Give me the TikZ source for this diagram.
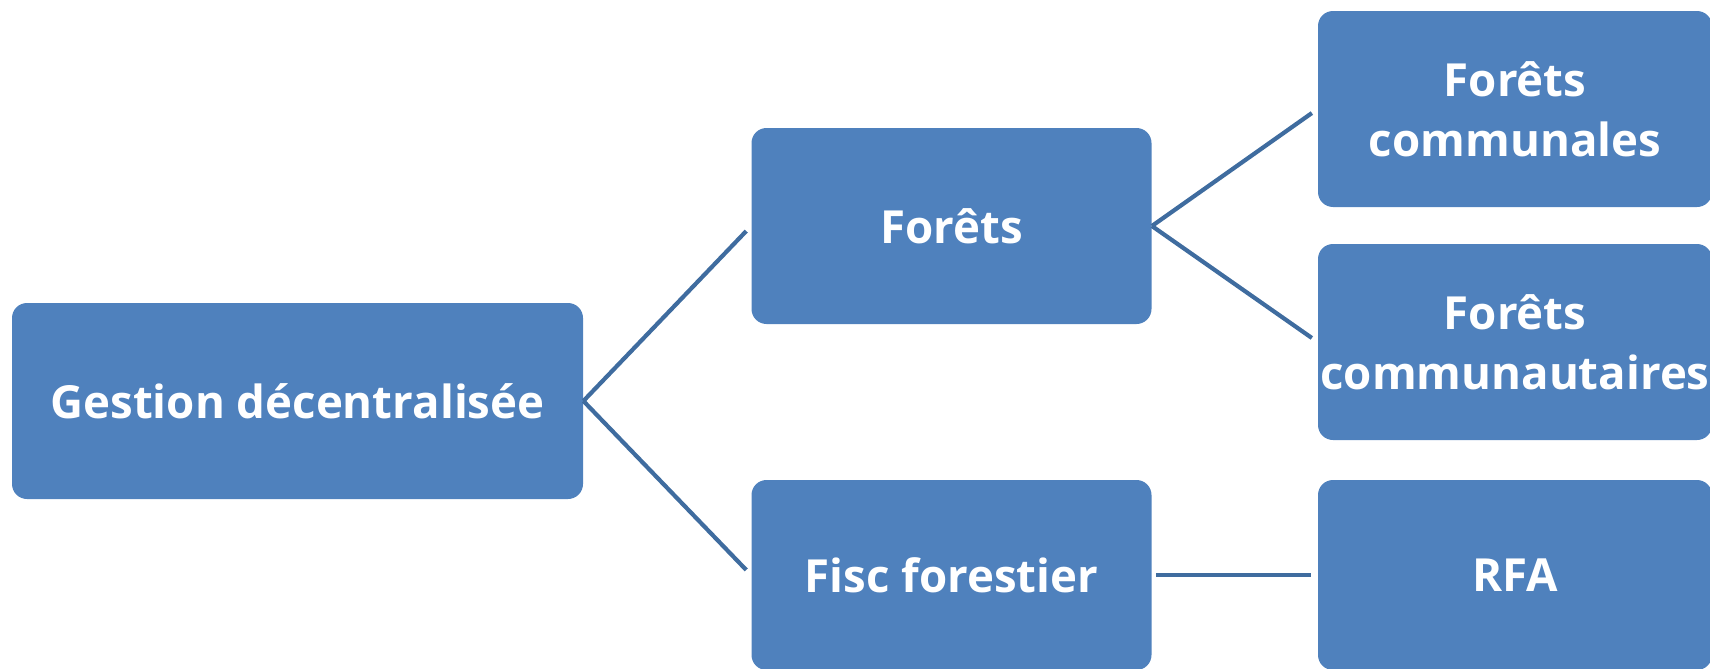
\documentclass[tikz,border=0pt]{standalone}
\usepackage{fontspec}
\setmainfont{Open Sans}
\usepackage{xcolor}
\usetikzlibrary{positioning}
\usetikzlibrary{calc}
\definecolor{boxblue}{HTML}{4F81BD}
\definecolor{lineblue}{HTML}{3F6C9F}

\begin{document}
\begin{tikzpicture}[x=0.5pt,y=-0.5pt,
		box/.style={rectangle, rounded corners=7.5pt, fill=boxblue, text=white,
			font=\fontsize{22.8}{30}\selectfont\bfseries, align=center, inner sep=0pt},
		big/.style={box, minimum width=285.5pt, minimum height=98pt},
		mid/.style={box, minimum width=200pt, minimum height=98pt},
		low/.style={box, minimum width=200pt, minimum height=95pt},
		side/.style={box, minimum width=197pt, minimum height=98pt},
		sidelow/.style={box, minimum width=197pt, minimum height=95pt},
		link/.style={draw=lineblue, line width=2.1pt, shorten >=3.5pt}]
						\useasboundingbox (0,0) rectangle (1710,669);
						% draw boxes
						\node[big] (gestion) at (297.5,401) {Gestion décentralisée};
						\node[mid] (forets) at (951.5,226) {Forêts};
						\node[low] (fisc) at (951.5,575) {Fisc forestier};
						\node[side] (communales) at (1515,109) {Forêts\\communales};
						\node[side] (communautaires) at (1515,342) {Forêts\\communautaires};
						\node[sidelow] (rfa) at (1515,575) {RFA};
						
						% draw lines
						\draw[link] (gestion.east) -- (forets.west);
						\draw[link] (gestion.east) -- (fisc.west);
						\draw[link] (forets.east) -- (communales.west);
						\draw[link] (forets.east) -- (communautaires.west);
						\draw[link, shorten <=2pt] (fisc.east) -- (rfa.west);
					\end{tikzpicture}
\end{document}
